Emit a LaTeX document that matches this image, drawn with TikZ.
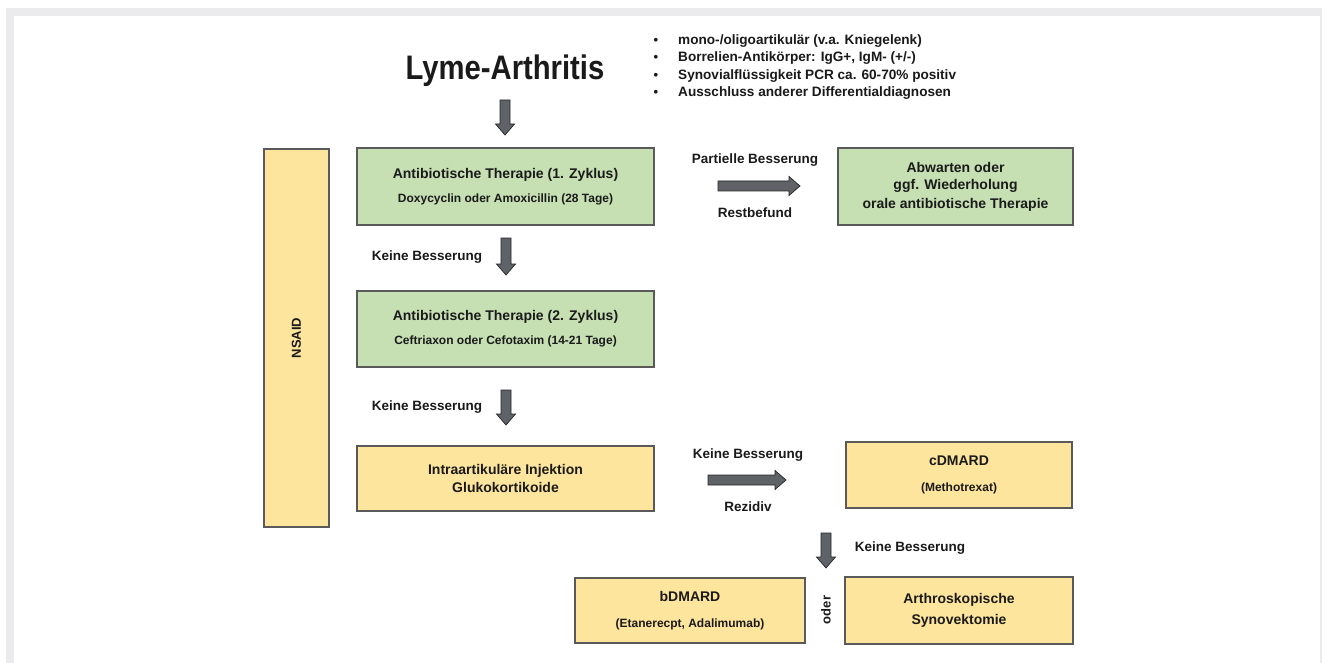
\documentclass[tikz,border=0pt]{standalone}
\usepackage{fontspec}
\setmainfont{Liberation Sans}
\definecolor{gfill}{HTML}{C6E0B4}
\definecolor{yfill}{HTML}{FDE59D}
\definecolor{bord}{HTML}{5A5A5A}
\definecolor{afill}{HTML}{5F6368}
\definecolor{frame}{HTML}{EBEBED}
\definecolor{txt}{HTML}{1A1A1A}
\newcommand\fs[1]{\fontsize{#1}{#1}\selectfont\bfseries}
\newcommand\dnarrow[3]{\filldraw[barrow] (#1-5,#2) -- (#1+5,#2) -- (#1+5,#3-11) -- (#1+9.5,#3-11) -- (#1,#3) -- (#1-9.5,#3-11) -- (#1-5,#3-11) -- cycle;}
\newcommand\rtarrow[3]{\filldraw[barrow] (#1,#3-5) -- (#2-11,#3-5) -- (#2-11,#3-9.5) -- (#2,#3) -- (#2-11,#3+9.5) -- (#2-11,#3+5) -- (#1,#3+5) -- cycle;}
\begin{document}
\begin{tikzpicture}[x=1pt,y=-1pt,
  box/.style={draw=bord, line width=1.2pt, inner sep=0pt, align=center, text=txt},
  gbox/.style={box, fill=gfill},
  ybox/.style={box, fill=yfill},
  lab/.style={text=txt, font=\fs{13.5}, inner sep=0pt},
  barrow/.style={fill=afill, draw=black!85, line width=0.7pt, line join=miter}]
\useasboundingbox (0,0) rectangle (1322,663);
\fill[white] (0,0) rectangle (1322,663);
\fill[frame] (6,8) rectangle (1322,16);
\fill[frame] (6,8) rectangle (14,663);
\fill[frame] (1320,16) rectangle (1322,663);

% title and criteria
\node[text=txt, inner sep=0pt, xscale=0.86] (title) at (505,71) {\fs{34}Lyme-Arthritis};
\foreach \yy/\tt [count=\i] in {41/{mono-/oligoartikulär (v.a. Kniegelenk)},
  58/{Borrelien-Antikörper: IgG+, IgM- (+/-)},
  76/{Synovialflüssigkeit PCR ca. 60-70\% positiv},
  93/{Ausschluss anderer Differentialdiagnosen}}{
  \node[lab, font=\fs{13}] (b\i) at (656,\yy) {•};
  \node[lab, font=\fs{13.6}, anchor=west] (c\i) at (678,\yy) {\tt};
}

% boxes
\node[ybox, minimum width=65pt, minimum height=378pt] (nsaid) at (296.5,338) {};
\node[text=txt, rotate=90, inner sep=0pt] (nsaidt) at (nsaid.center) {\fs{13}NSAID};
\node[gbox, minimum width=297pt, minimum height=77pt] (a1) at (505.5,186.5)
  {\fs{14}Antibiotische Therapie (1. Zyklus)\\[12pt]\fs{12}Doxycyclin oder Amoxicillin (28 Tage)};
\node[gbox, minimum width=297pt, minimum height=76pt] (a2) at (505.5,329)
  {\fs{14}Antibiotische Therapie (2. Zyklus)\\[12pt]\fs{12}Ceftriaxon oder Cefotaxim (14-21 Tage)};
\node[ybox, minimum width=297pt, minimum height=65pt] (inj) at (505.5,478.5)
  {\fs{14}Intraartikuläre Injektion\\[4pt]\fs{14}Glukokortikoide};
\node[gbox, minimum width=235pt, minimum height=77pt] (abw) at (955.5,186.5)
  {\fs{14}Abwarten oder\\[5pt]\fs{14}ggf. Wiederholung\\[5pt]\fs{14}orale antibiotische Therapie};
\node[ybox, minimum width=226pt, minimum height=66pt] (cdm) at (959,475)
  {\fs{14}cDMARD\\[14pt]\fs{12}(Methotrexat)};
\node[ybox, minimum width=230pt, minimum height=65pt] (bdm) at (690,610.5)
  {\fs{14}bDMARD\\[14pt]\fs{12}(Etanerecpt, Adalimumab)};
\node[ybox, minimum width=228pt, minimum height=67pt] (arth) at (959,610.5)
  {\fs{14}Arthroskopische\\[7pt]\fs{14}Synovektomie};

% arrows and labels
\dnarrow{505}{100}{135}
\dnarrow{506}{238}{275}
\dnarrow{506}{390}{425}
\dnarrow{826}{533}{568}
\rtarrow{718}{800}{186}
\rtarrow{708}{786}{480}
\node[lab] (l1) at (427,257) {Keine Besserung};
\node[lab] (l2) at (427,407) {Keine Besserung};
\node[lab] (l3) at (755,160) {Partielle Besserung};
\node[lab] (l4) at (755,213) {Restbefund};
\node[lab] (l5) at (748,455) {Keine Besserung};
\node[lab] (l6) at (748,507) {Rezidiv};
\node[lab] (l7) at (910,548) {Keine Besserung};
\node[text=txt, rotate=90, inner sep=0pt] (oder) at (826,610) {\fs{13}oder};
\end{tikzpicture}
\end{document}
